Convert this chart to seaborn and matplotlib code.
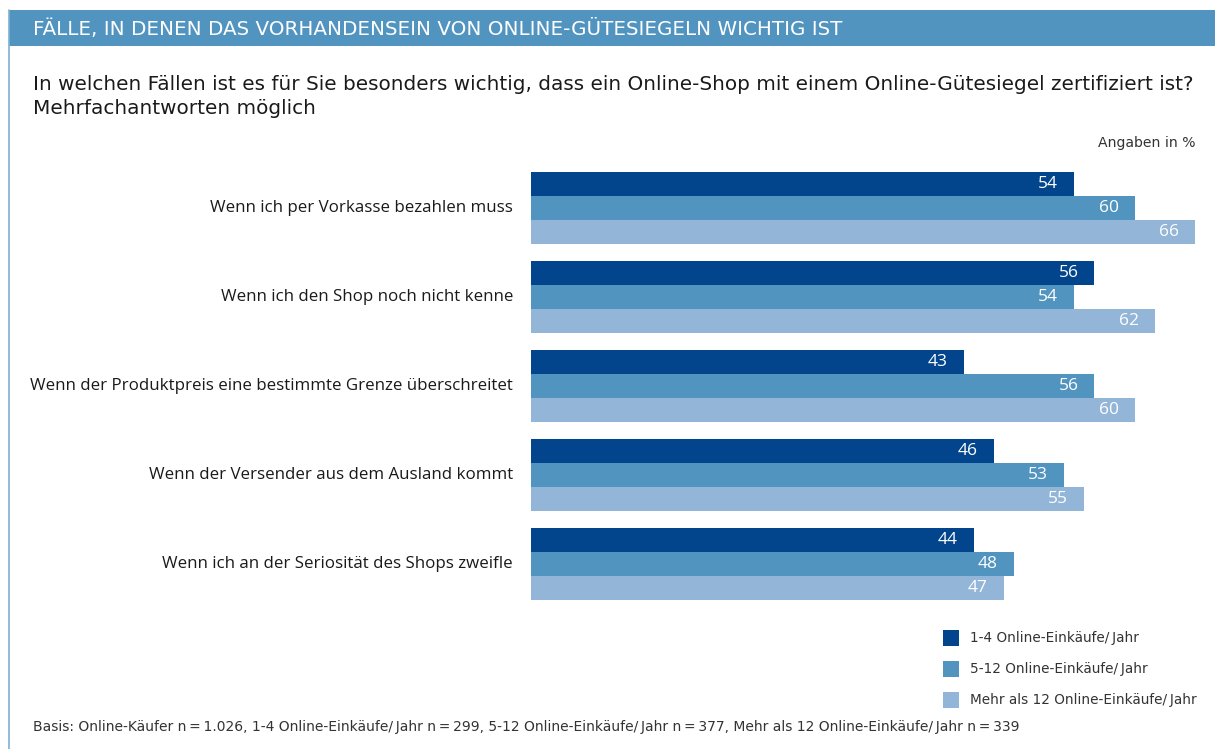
import matplotlib
matplotlib.use("Agg")
import matplotlib.pyplot as plt
import seaborn as sns
import pandas as pd
from matplotlib.patches import Rectangle
from matplotlib.lines import Line2D

sns.set_theme(style="white")
plt.rcParams["font.family"] = ["Open Sans", "DejaVu Sans"]
WIDE = ["DejaVu Sans"]

categories = [
    "Wenn ich per Vorkasse bezahlen muss",
    "Wenn ich den Shop noch nicht kenne",
    "Wenn der Produktpreis eine bestimmte Grenze überschreitet",
    "Wenn der Versender aus dem Ausland kommt",
    "Wenn ich an der Seriosität des Shops zweifle",
]
groups = [
    "1-4 Online-Einkäufe/Jahr",
    "5-12 Online-Einkäufe/Jahr",
    "Mehr als 12 Online-Einkäufe/Jahr",
]
values_1_4 = [54, 56, 43, 46, 44]
values_5_12 = [60, 54, 56, 53, 48]
values_12plus = [66, 62, 60, 55, 47]
colors = ["#02458c", "#5294c0", "#93b6d8"]

df = pd.DataFrame({
    "Fall": categories * 3,
    "Gruppe": [g for g in groups for _ in categories],
    "Wert": values_1_4 + values_5_12 + values_12plus,
})

W, H = 1215, 749
fig = plt.figure(figsize=(W / 100, H / 100), dpi=100)

# frame: left border line and header band
fig.add_artist(Line2D([9 / W, 9 / W], [0, 1 - 10 / H], color="#7fb0d4", lw=1.2))
fig.add_artist(Rectangle((9 / W, 1 - 46 / H), 1 - 9 / W, 36 / H,
                         facecolor="#5294c0", edgecolor="none"))
fig.text(33 / W, 1 - 29 / H, "FÄLLE, IN DENEN DAS VORHANDENSEIN VON ONLINE-GÜTESIEGELN WICHTIG IST",
         color="white", fontsize=14.3, va="center", ha="left", family=WIDE)
fig.text(33 / W, 1 - 85 / H,
         "In welchen Fällen ist es für Sie besonders wichtig, dass ein Online-Shop mit einem Online-Gütesiegel zertifiziert ist?",
         color="#1a1a1a", fontsize=14.4, va="center", ha="left", family=WIDE)
fig.text(33 / W, 1 - 108 / H, "Mehrfachantworten möglich",
         color="#1a1a1a", fontsize=14.4, va="center", ha="left", family=WIDE)
fig.text(1195 / W, 1 - 143 / H, "Angaben in %", color="#333333",
         fontsize=10.1, va="center", ha="right", family=WIDE)

# bar chart area
x0, x1 = 531, 1195
y_top, y_bot = 163.5, 608.5
ax = fig.add_axes([x0 / W, 1 - y_bot / H, (x1 - x0) / W, (y_bot - y_top) / H])
sns.barplot(data=df, y="Fall", x="Wert", hue="Gruppe", order=categories,
            hue_order=groups, palette=colors, orient="h", width=0.81,
            saturation=1, linewidth=0, legend=False, ax=ax)
ax.set_xlim(0, 66)
ax.set_ylim(4.5, -0.5)
ax.set_xlabel("")
ax.set_ylabel("")
ax.set_xticks([])
ax.set_yticks([])
for s in ax.spines.values():
    s.set_visible(False)
ax.patch.set_alpha(0)

px = 66 / (x1 - x0)  # data units per pixel
for i, cat in enumerate(categories):
    ax.text(-18 * px, i, cat, ha="right", va="center",
            fontsize=12.2, color="#1a1a1a")

for cont in ax.containers:
    for bar in cont:
        w = bar.get_width()
        ax.text(w - 16 * px, bar.get_y() + bar.get_height() / 2, f"{w:.0f}",
                ha="right", va="center", color="white", fontsize=12.5)

# legend
for k, (g, c) in enumerate(zip(groups, colors)):
    yc = 638 + k * 31
    fig.add_artist(Rectangle((943 / W, 1 - (yc + 8) / H), 16 / W, 16 / H,
                             facecolor=c, edgecolor="none"))
    fig.text(970 / W, 1 - yc / H, g.replace("/", "/\u2009"), color="#333333",
             fontsize=9.8, va="center", ha="left", family=WIDE)

fig.text(33 / W, 1 - 727 / H,
         "Basis: Online-Käufer n\u2009=\u20091.026, 1-4 Online-Einkäufe/\u2009Jahr n\u2009=\u2009299, "
         "5-12 Online-Einkäufe/\u2009Jahr n\u2009=\u2009377, Mehr als 12 Online-Einkäufe/\u2009Jahr n\u2009=\u2009339",
         color="#333333", fontsize=10, va="center", ha="left", family=WIDE)

fig.savefig("out.png", dpi=100)
